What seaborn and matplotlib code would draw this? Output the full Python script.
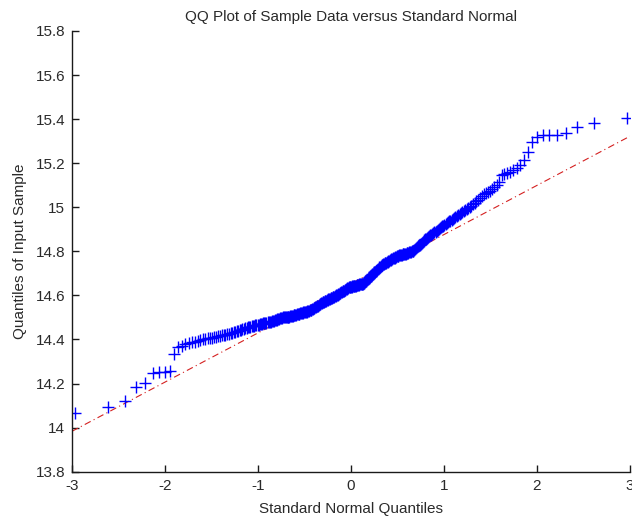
import numpy as np
import pandas as pd
import seaborn as sns
import matplotlib
matplotlib.use("Agg")
import matplotlib.pyplot as plt
from statistics import NormalDist

# Sorted sample values (n = 333)
sample_lower_tail = [14.065, 14.092, 14.122, 14.183, 14.201, 14.247, 14.251, 14.252, 14.255,
                     14.334, 14.367, 14.372, 14.378]
sample_body_low = [14.383, 14.387, 14.390, 14.394, 14.398,
                   14.400, 14.403, 14.405, 14.407, 14.409, 14.411,
                   14.413, 14.415, 14.417, 14.419, 14.420, 14.422, 14.424,
                   14.426, 14.429, 14.431, 14.434, 14.436, 14.438, 14.440, 14.443, 14.445,
                   14.447, 14.449, 14.451, 14.453, 14.455, 14.457, 14.458, 14.460, 14.462,
                   14.463, 14.464, 14.466, 14.467, 14.468, 14.470, 14.471, 14.472, 14.474, 14.475,
                   14.476, 14.477, 14.478, 14.479, 14.480, 14.481,
                   14.483, 14.484, 14.486, 14.487, 14.489, 14.490, 14.492, 14.493, 14.495, 14.496,
                   14.497, 14.499, 14.500,
                   14.500, 14.501, 14.501, 14.502, 14.503, 14.503, 14.504, 14.505,
                   14.506, 14.507, 14.508, 14.510, 14.511, 14.512, 14.513, 14.514, 14.515, 14.516,
                   14.517, 14.519, 14.520, 14.521, 14.522, 14.524,
                   14.525, 14.526, 14.527, 14.527, 14.528, 14.529, 14.530]
sample_body_mid = [14.532, 14.534, 14.536, 14.538, 14.540, 14.542, 14.544, 14.546, 14.548, 14.550,
                   14.552, 14.554, 14.556, 14.559, 14.562,
                   14.564, 14.566, 14.568, 14.569, 14.571, 14.573, 14.575, 14.576, 14.578, 14.580,
                   14.582, 14.583, 14.585, 14.587, 14.588, 14.590, 14.592, 14.593, 14.595, 14.597,
                   14.598, 14.600, 14.602,
                   14.604, 14.606, 14.608, 14.610, 14.612, 14.614, 14.616, 14.618, 14.620, 14.622,
                   14.624, 14.626, 14.628, 14.630, 14.632, 14.634, 14.636,
                   14.637, 14.638, 14.639, 14.640, 14.641, 14.642, 14.643, 14.644, 14.645, 14.645,
                   14.646, 14.647,
                   14.648, 14.649, 14.650, 14.651, 14.652, 14.652, 14.653, 14.654, 14.655,
                   14.658, 14.661, 14.664, 14.667, 14.670,
                   14.674, 14.678, 14.682, 14.686, 14.690,
                   14.693, 14.696, 14.699, 14.702, 14.705, 14.708, 14.711, 14.713, 14.716,
                   14.720, 14.724, 14.728, 14.731, 14.735,
                   14.737, 14.739, 14.741, 14.743, 14.745, 14.747, 14.749, 14.751, 14.753]
sample_body_high = [14.755, 14.757, 14.759, 14.762, 14.764, 14.766, 14.768, 14.770, 14.772, 14.774,
                    14.776, 14.778, 14.780,
                    14.781, 14.782, 14.783, 14.784, 14.785, 14.786, 14.787, 14.788, 14.789, 14.790,
                    14.791,
                    14.792, 14.794, 14.795, 14.797, 14.798, 14.800, 14.801, 14.803,
                    14.807, 14.811, 14.815, 14.819, 14.823, 14.827, 14.831, 14.835, 14.839, 14.844,
                    14.848,
                    14.851, 14.855, 14.858, 14.862, 14.865, 14.869, 14.872, 14.875, 14.879, 14.882,
                    14.886, 14.890, 14.894, 14.897, 14.901, 14.905, 14.909, 14.913, 14.917, 14.920,
                    14.924, 14.928,
                    14.932, 14.936, 14.940, 14.944, 14.948, 14.952, 14.956, 14.961, 14.965, 14.969,
                    14.973,
                    14.978, 14.983, 14.988, 14.993, 14.998, 15.003, 15.008, 15.013,
                    15.020, 15.028, 15.035, 15.043, 15.050, 15.058,
                    15.064, 15.070, 15.075]
sample_upper_tail = [15.085, 15.094, 15.100, 15.116, 15.147, 15.150, 15.155, 15.162, 15.170, 15.177,
                     15.190, 15.215, 15.253, 15.298, 15.320, 15.328, 15.330, 15.330, 15.336, 15.366,
                     15.381, 15.407]

title = "QQ Plot of Sample Data versus Standard Normal"
xlabel = "Standard Normal Quantiles"
ylabel = "Quantiles of Input Sample"
xticks = [-3, -2, -1, 0, 1, 2, 3]
yticks = [13.8, 14.0, 14.2, 14.4, 14.6, 14.8, 15.0, 15.2, 15.4, 15.6, 15.8]
ytick_labels = ["13.8", "14", "14.2", "14.4", "14.6", "14.8", "15", "15.2", "15.4", "15.6", "15.8"]

sample = np.sort(np.array(sample_lower_tail + sample_body_low + sample_body_mid
                          + sample_body_high + sample_upper_tail))
n = len(sample)
nd = NormalDist()
theo = np.array([nd.inv_cdf((i - 0.5) / n) for i in range(1, n + 1)])
df = pd.DataFrame({"theoretical": theo, "sample": sample})

# Reference line through first and third quartiles (as MATLAB qqplot does)
qx1, qx3 = np.percentile(theo, [25, 75])
qy1, qy3 = np.percentile(sample, [25, 75])
slope = (qy3 - qy1) / (qx3 - qx1)
xl = np.array([-3.0, 3.0])
line_df = pd.DataFrame({"x": xl, "y": qy1 + slope * (xl - qx1)})

sns.set_style("white")
plt.rcParams["font.family"] = ["Liberation Sans", "DejaVu Sans"]
text_color = "#2a2a2a"

fig = plt.figure(figsize=(6.32, 5.19), dpi=100)
ax = fig.add_axes([0.1139, 0.0911, 0.8829, 0.8492])

sns.lineplot(data=line_df, x="x", y="y", ax=ax, color="#d42020", linewidth=0.8,
             linestyle="-.", zorder=1)
ax.lines[-1].set_dashes([6, 3, 1, 3])
sns.scatterplot(data=df, x="theoretical", y="sample", ax=ax, marker="+", color="#0000ff",
                s=80, linewidth=1.0, zorder=2)

ax.set_xlim(-3, 3)
ax.set_ylim(13.8, 15.8)
ax.set_xticks(xticks)
ax.set_xticklabels([str(t) for t in xticks])
ax.set_yticks(yticks)
ax.set_yticklabels(ytick_labels)
for s in ["top", "right"]:
    ax.spines[s].set_visible(False)
for s in ["left", "bottom"]:
    ax.spines[s].set_color("#1a1a1a")
    ax.spines[s].set_linewidth(1.0)
ax.tick_params(axis="both", direction="in", length=5, width=1, color="#1a1a1a",
               labelsize=11, labelcolor=text_color, pad=5, left=True, bottom=True)
ax.set_title(title, fontsize=11, color=text_color, pad=7)
ax.set_xlabel(xlabel, fontsize=11, color=text_color, labelpad=7)
ax.set_ylabel(ylabel, fontsize=11, color=text_color, labelpad=6)
ax.grid(False)

fig.savefig("out.png", dpi=100)
